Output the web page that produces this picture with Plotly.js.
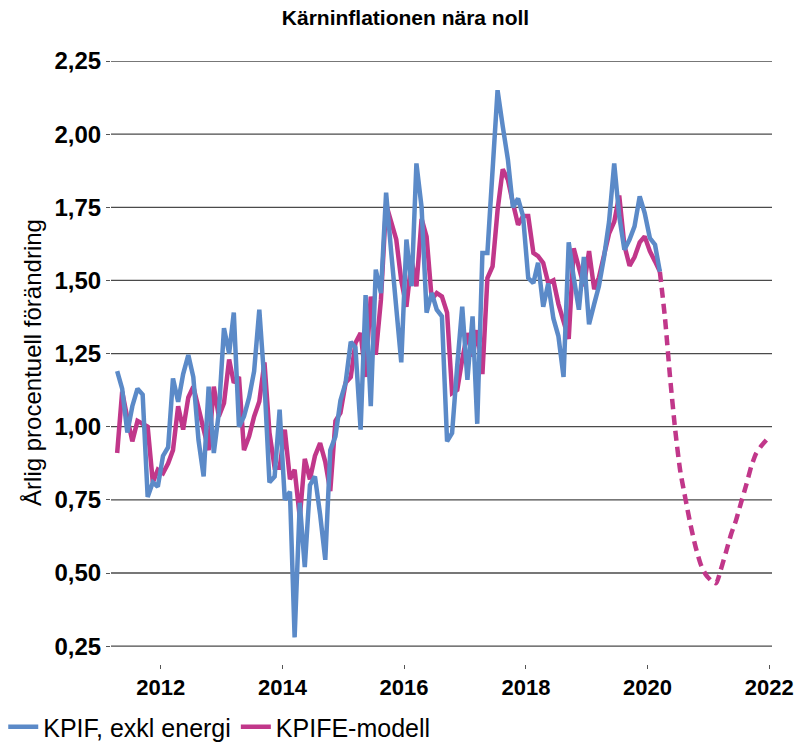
<!DOCTYPE html>
<html>
<head>
<meta charset="utf-8">
<script src="https://cdn.plot.ly/plotly-3.0.1.min.js"></script>
<style>html,body{margin:0;padding:0;background:#fff}#chart{width:811px;height:743px}</style>
</head>
<body>
<div id="chart"></div>
<script>
// Monthly series, first value = April 2011
const startYear = 2011;
const startMonth = 4;

const kpifExklEnergi = [
  1.19, 1.13, 0.98, 1.07, 1.13, 1.11, 0.76, 0.81, 0.795, 0.90, 0.93, 1.165,
  1.085, 1.18, 1.245, 1.17, 0.955, 0.83, 1.137, 0.91, 1.047, 1.337, 1.25, 1.39,
  1.00, 1.035, 1.10, 1.19, 1.40, 1.15, 0.81, 0.83, 1.058, 0.75, 0.778, 0.28,
  0.74, 0.52, 0.80, 0.83, 0.70, 0.545, 0.92, 0.967, 1.09, 1.15, 1.29, 1.27,
  0.99, 1.45, 1.07, 1.537, 1.457, 1.80, 1.60, 1.40, 1.22, 1.64, 1.48, 1.90,
  1.75, 1.39, 1.457, 1.40, 1.377, 0.95, 0.978, 1.21, 1.41, 1.16, 1.377, 1.01,
  1.594, 1.594, 1.91, 2.15, 2.027, 1.913, 1.75, 1.78, 1.72, 1.508, 1.491, 1.56,
  1.41, 1.49, 1.37, 1.31, 1.17, 1.63, 1.51, 1.40, 1.58, 1.35, 1.42, 1.48,
  1.58, 1.70, 1.90, 1.72, 1.605, 1.64, 1.685, 1.787, 1.73, 1.645, 1.622, 1.53
];

const kpifeModell = [
  0.91, 1.12, 1.03, 0.95, 1.02, 1.01, 1.00, 0.81, 0.853, 0.841, 0.875, 0.92,
  1.07, 0.99, 1.10, 1.137, 1.058, 0.99, 0.92, 1.137, 1.035, 1.08, 1.23, 1.15,
  1.17, 0.92, 0.967, 1.035, 1.086, 1.22, 0.98, 0.86, 0.86, 0.99, 0.82, 0.853,
  0.69, 0.89, 0.82, 0.90, 0.944, 0.88, 0.78, 1.02, 1.047, 1.15, 1.17, 1.286,
  1.32, 1.17, 1.445, 1.246, 1.434, 1.76, 1.70, 1.64, 1.50, 1.41, 1.57, 1.48,
  1.71, 1.65, 1.434, 1.457, 1.445, 1.39, 1.115, 1.126, 1.23, 1.32, 1.24, 1.33,
  1.18, 1.508, 1.548, 1.74, 1.88, 1.844, 1.765, 1.69, 1.72, 1.72, 1.594, 1.583,
  1.56, 1.491, 1.50, 1.42, 1.36, 1.30, 1.61, 1.54, 1.48, 1.60, 1.47, 1.51,
  1.58, 1.66, 1.70, 1.79, 1.62, 1.55, 1.58, 1.63, 1.65, 1.60, 1.565, 1.53
];

// Forecast, first value = March 2020 (joins last observed month)
const kpifeModellPrognos = [
  1.53, 1.37, 1.17, 0.99, 0.85, 0.755, 0.665, 0.59, 0.53, 0.495, 0.475,
  0.465, 0.51, 0.57, 0.63, 0.68, 0.74, 0.80, 0.865, 0.91, 0.935, 0.955
];

const yearTicks = [2012, 2014, 2016, 2018, 2020, 2022];
const yTickVals = [0.25, 0.5, 0.75, 1.0, 1.25, 1.5, 1.75, 2.0, 2.25];
const yTickText = ['0,25', '0,50', '0,75', '1,00', '1,25', '1,50', '1,75', '2,00', '2,25'];

function monthDate(i) {
  const m0 = (startMonth - 1) + i;
  const y = startYear + Math.floor(m0 / 12);
  const m = (m0 % 12) + 1;
  return y + '-' + String(m).padStart(2, '0') + '-15';
}
const histX = kpifExklEnergi.map((_, i) => monthDate(i));
const progOffset = kpifExklEnergi.length - 1;
const progX = kpifeModellPrognos.map((_, i) => monthDate(progOffset + i));

const BLUE = '#5b8ac8';
const MAGENTA = '#c1378a';
const FONT = 'Liberation Sans, Arial, sans-serif';

const traces = [
  {
    x: progX, y: kpifeModellPrognos, type: 'scatter', mode: 'lines',
    line: {color: MAGENTA, width: 4.5, dash: '10px,6px', shape: 'spline', smoothing: 0.6},
    showlegend: false, hoverinfo: 'skip', cliponaxis: false
  },
  {
    x: histX, y: kpifeModell, type: 'scatter', mode: 'lines', name: 'KPIFE-modell',
    line: {color: MAGENTA, width: 4.5}, legendrank: 2
  },
  {
    x: histX, y: kpifExklEnergi, type: 'scatter', mode: 'lines', name: 'KPIF, exkl energi',
    line: {color: BLUE, width: 4.5}, legendrank: 1
  }
];

// horizontal gridlines drawn at the tick values
const gridShapes = yTickVals.map(v => ({
  type: 'line', xref: 'paper', x0: 0, x1: 1, yref: 'y', y0: v, y1: v,
  line: {color: '#4a4a4a', width: 1.3}, layer: 'below'
}));

const layout = {
  width: 811, height: 743,
  paper_bgcolor: '#fff', plot_bgcolor: '#fff',
  margin: {l: 111, r: 39, t: 61, b: 79},
  font: {family: FONT, color: '#000'},
  title: {
    text: 'Kärninflationen nära noll',
    font: {family: FONT, size: 21, weight: 'bold', color: '#000'},
    x: 0.5, xref: 'container', xanchor: 'center',
    y: 1 - 18 / 743, yref: 'container', yanchor: 'middle'
  },
  xaxis: {
    type: 'date',
    range: ['2011-03-09', '2022-01-17'],
    tickvals: yearTicks.map(y => y + '-01-01'),
    ticktext: yearTicks.map(String),
    ticks: 'outside', ticklen: 4, tickwidth: 1, tickcolor: '#555',
    showgrid: false, showline: false, zeroline: false,
    tickfont: {family: FONT, size: 22, weight: 'bold', color: '#000'}
  },
  yaxis: {
    range: [0.189, 2.25],
    tickvals: yTickVals, ticktext: yTickText,
    ticks: 'outside', ticklen: 4, tickwidth: 1, tickcolor: '#555',
    showgrid: false, showline: false, zeroline: false,
    tickfont: {family: FONT, size: 24, weight: 'bold', color: '#000'},
    title: {text: 'Årlig procentuell förändring', font: {family: FONT, size: 24, color: '#000'}, standoff: 6}
  },
  shapes: gridShapes,
  showlegend: true,
  legend: {
    orientation: 'h',
    xref: 'container', yref: 'container',
    x: 0.004, xanchor: 'left',
    y: 1 - 727 / 743, yanchor: 'middle',
    font: {family: FONT, size: 25, color: '#000'},
    itemwidth: 30, tracegroupgap: 0,
    bgcolor: 'rgba(0,0,0,0)'
  },
  hovermode: false
};

Plotly.newPlot('chart', traces, layout, {displayModeBar: false, staticPlot: true});
</script>
</body>
</html>
